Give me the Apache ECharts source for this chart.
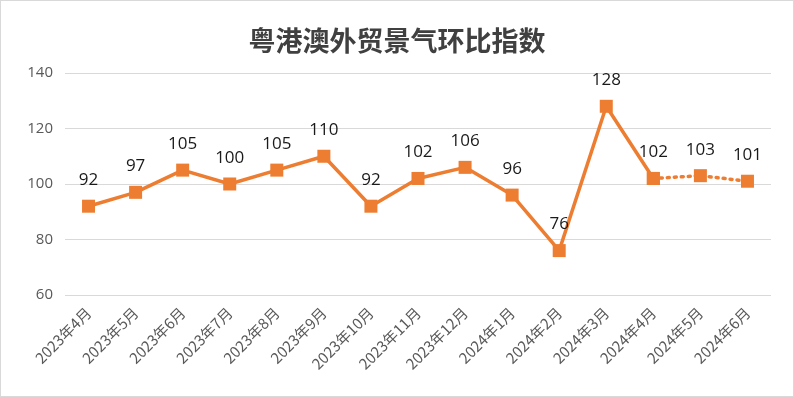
<!DOCTYPE html>
<html>
<head>
<meta charset="utf-8">
<script src="https://cdn.jsdelivr.net/npm/echarts@6/dist/echarts.min.js"></script>
<style>
  html, body { margin: 0; padding: 0; background: #fff; }
  #chart { width: 792px; height: 395px; border: 1px solid #d9d9d9; }
</style>
</head>
<body>
<div id="chart"></div>
<script>
// 类目与数值
const months = ['2023年4月', '2023年5月', '2023年6月', '2023年7月', '2023年8月', '2023年9月', '2023年10月',
  '2023年11月', '2023年12月', '2024年1月', '2024年2月', '2024年3月', '2024年4月', '2024年5月', '2024年6月'];
const actual = [92, 97, 105, 100, 105, 110, 92, 102, 106, 96, 76, 128, 102, null, null];
const forecast = [null, null, null, null, null, null, null, null, null, null, null, null, 102, 103, 101];
const yTicks = [60, 80, 100, 120, 140];

const orange = '#ED7D31';
const labelStyle = { show: true, position: 'top', distance: 11, color: '#1a1a1a', fontSize: 17, fontFamily: 'Open Sans' };

let myChart = echarts.init(document.getElementById('chart'));
let option = {
  animation: false,
  title: {
    text: '粤港澳外贸景气环比指数',
    left: 'center',
    top: 21,
    textStyle: { fontFamily: 'Noto Sans CJK SC', fontSize: 27, fontWeight: 'bold', color: '#404040' }
  },
  grid: { left: 64, right: 22, top: 72, bottom: 101 },
  xAxis: {
    type: 'category',
    data: months,
    axisLine: { show: false },
    axisTick: { show: false },
    axisLabel: { rotate: 45, interval: 0, color: '#595959', fontSize: 15, fontFamily: 'Noto Sans CJK SC', margin: 15 }
  },
  yAxis: {
    type: 'value',
    min: yTicks[0],
    max: yTicks[yTicks.length - 1],
    interval: 20,
    axisLine: { show: false },
    axisTick: { show: false },
    axisLabel: { color: '#595959', fontSize: 15, fontFamily: 'Open Sans', margin: 12 },
    splitLine: { lineStyle: { color: '#d9d9d9', width: 1 } }
  },
  series: [
    {
      type: 'line',
      data: actual,
      symbol: 'rect',
      symbolSize: 13,
      lineStyle: { color: orange, width: 3.5 },
      itemStyle: { color: orange },
      label: labelStyle,
      z: 3
    },
    {
      type: 'line',
      data: forecast,
      symbol: 'rect',
      symbolSize: 13,
      lineStyle: { color: orange, width: 3.5, type: [2, 5], cap: 'round' },
      itemStyle: { color: orange },
      label: Object.assign({}, labelStyle, {
        formatter: p => (p.dataIndex === 12 ? '' : p.value)
      }),
      z: 2
    }
  ]
};
myChart.setOption(option);
window.addEventListener('resize', myChart.resize);
</script>
</body>
</html>
